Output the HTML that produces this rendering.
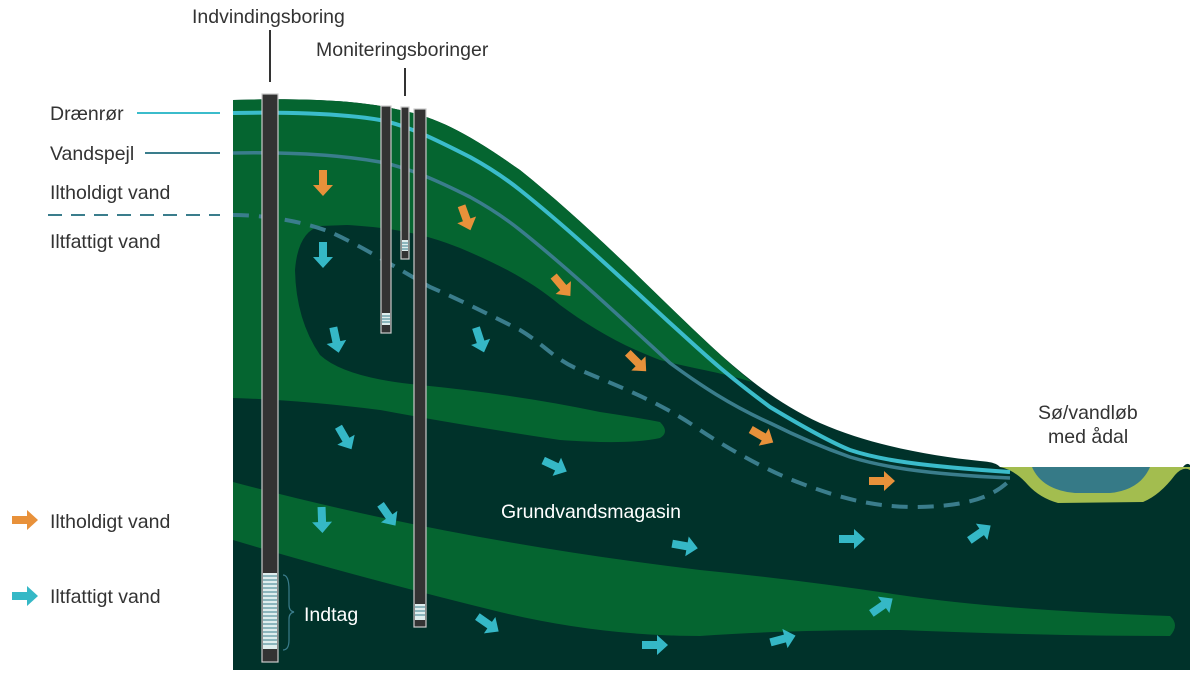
<!DOCTYPE html>
<html><head><meta charset="utf-8"><style>
html,body{margin:0;padding:0;background:#fff}
svg{display:block}
text{font-family:"Liberation Sans",sans-serif;font-size:19.5px;fill:#333}
</style></head><body>
<svg width="1200" height="682" viewBox="0 0 1200 682" xmlns="http://www.w3.org/2000/svg">
<defs>
<path id="ar" d="M-13,-4 L2,-4 L2,-10 L13,0 L2,10 L2,4 L-13,4 Z"/>
</defs>
<!-- base dark ground -->
<path d="M233,100 C300,98 360,100 400,110 C440,118 470,135 520,170 C570,210 620,258 670,307 C720,355 760,395 820,423 C870,445 930,456 980,461 C995,462 998,465 1000,467 L1183,467 Q1187,462 1190,465 L1190,670 L233,670 Z" fill="#00322a"/>
<!-- upper green layer -->
<path d="M233,100 C300,98 360,100 400,110 C440,118 470,135 520,170 C570,210 620,258 670,307 C700,336 725,360 752,382 C720,372 690,368 660,360 C620,345 590,327 560,305 C530,280 500,265 460,248 C430,236 400,228 347,225 L320,226 Q298,232 295,270 Q296,320 320,355 Q345,378 420,385 Q520,395 600,412 Q640,418 660,422 Q670,432 660,438 Q630,445 560,440 Q460,425 380,410 Q300,400 233,398 Z" fill="#056530"/>
<!-- lower green band -->
<path d="M233,482 Q450,540 700,570 Q800,580 900,595 Q1000,610 1170,616 Q1180,625 1170,636 Q1050,636 900,630 Q780,630 700,636 Q600,636 500,612 Q350,575 233,540 Z" fill="#056530"/>
<!-- lake -->
<path d="M1000,467 L1190,467 L1190,470 Q1183,466 1175,475 Q1160,495 1143,502 L1058,503 Q1040,498 1028,485 Q1015,470 1000,467 Z" fill="#a3bd4f"/>
<path d="M1032,467 L1150,467 Q1140,490 1110,493 L1075,493 Q1042,490 1032,467 Z" fill="#367a87"/>
<!-- lines -->
<path d="M233,113 C280,112 340,113 380,120 C410,126 440,142 470,157 C490,168 505,178 520,190 C570,230 620,277 670,323 C700,350 720,370 770,407 C800,425 830,442 850,450 C880,460 920,466 1010,472" fill="none" stroke="#3bbccb" stroke-width="4"/>
<path d="M233,153 C290,152 340,155 380,162 C410,168 440,182 470,197 C490,208 505,218 520,230 C570,270 620,317 670,363 C700,385 730,405 770,423 C800,438 830,450 850,457 C880,466 920,474 1010,478" fill="none" stroke="#3a7d8c" stroke-width="3.5"/>
<path d="M233,215 C260,215 300,220 330,232 C360,245 400,270 430,287 C460,300 490,315 520,330 C545,345 555,360 580,370 C620,387 660,402 700,430 C730,450 770,472 800,483 C840,498 870,506 910,507 C960,507 990,500 1010,480" fill="none" stroke="#3a7d8c" stroke-width="4" stroke-dasharray="16,10"/>
<!-- wells -->
<g stroke="#ccc" stroke-width="1.2">
<rect x="262" y="94" width="16" height="568" fill="#333"/>
<rect x="381" y="106" width="10" height="227" fill="#333"/>
<rect x="401" y="107" width="8" height="152" fill="#333"/>
<rect x="414" y="109" width="12" height="518" fill="#333"/>
</g>
<g fill="#dfeeee">
<rect x="263" y="573" width="14" height="76"/>
<rect x="382" y="313" width="8" height="12"/>
<rect x="402" y="240" width="6" height="11"/>
<rect x="415" y="604" width="10" height="16"/>
</g>
<g stroke="#3a7d8c" stroke-width="1">
<path d="M263,576H277M263,580H277M263,584H277M263,588H277M263,592H277M263,596H277M263,600H277M263,604H277M263,608H277M263,612H277M263,616H277M263,620H277M263,624H277M263,628H277M263,632H277M263,636H277M263,640H277M263,644H277"/>
<path d="M382,316H390M382,319H390M382,322H390M402,243H408M402,246H408M402,249H408M415,607H425M415,611H425M415,615H425"/>
</g>
<path d="M283,575 Q289,575 289,590 L289,605 Q289,611 294,612 Q289,613 289,619 L289,640 Q289,650 283,650" fill="none" stroke="#3a7d8c" stroke-width="1.2"/>
<!-- leader lines -->
<line x1="270" y1="30" x2="270" y2="82" stroke="#333" stroke-width="2"/>
<line x1="405" y1="68" x2="405" y2="96" stroke="#333" stroke-width="2"/>
<line x1="137" y1="113" x2="220" y2="113" stroke="#3bbccb" stroke-width="2"/>
<line x1="145" y1="153" x2="220" y2="153" stroke="#3a7d8c" stroke-width="2"/>
<line x1="48" y1="215" x2="220" y2="215" stroke="#3a7d8c" stroke-width="2" stroke-dasharray="14,9"/>
<!-- arrows -->
<g fill="#e8913a">
<use href="#ar" transform="translate(323,183) rotate(90)"/>
<use href="#ar" transform="translate(466,218) rotate(70)"/>
<use href="#ar" transform="translate(562,286) rotate(50)"/>
<use href="#ar" transform="translate(637,362) rotate(45)"/>
<use href="#ar" transform="translate(762,436) rotate(30)"/>
<use href="#ar" transform="translate(882,481)"/>
<use href="#ar" transform="translate(25,520)"/>
</g>
<g fill="#35b8c6">
<use href="#ar" transform="translate(323,255) rotate(90)"/>
<use href="#ar" transform="translate(336,340) rotate(78)"/>
<use href="#ar" transform="translate(480,340) rotate(72)"/>
<use href="#ar" transform="translate(345,438) rotate(60)"/>
<use href="#ar" transform="translate(322,520) rotate(88)"/>
<use href="#ar" transform="translate(388,515) rotate(55)"/>
<use href="#ar" transform="translate(555,466) rotate(25)"/>
<use href="#ar" transform="translate(488,624) rotate(35)"/>
<use href="#ar" transform="translate(685,546) rotate(10)"/>
<use href="#ar" transform="translate(852,539)"/>
<use href="#ar" transform="translate(980,533) rotate(-35)"/>
<use href="#ar" transform="translate(882,606) rotate(-35)"/>
<use href="#ar" transform="translate(655,645)"/>
<use href="#ar" transform="translate(783,639) rotate(-15)"/>
<use href="#ar" transform="translate(25,596)"/>
</g>
<!-- text -->
<text x="192" y="23">Indvindingsboring</text>
<text x="316" y="56">Moniteringsboringer</text>
<text x="50" y="120">Drænrør</text>
<text x="50" y="160">Vandspejl</text>
<text x="50" y="199">Iltholdigt vand</text>
<text x="50" y="248">Iltfattigt vand</text>
<text x="50" y="528">Iltholdigt vand</text>
<text x="50" y="603">Iltfattigt vand</text>
<text x="1038" y="419">Sø/vandløb</text>
<text x="1048" y="443">med ådal</text>
<text x="501" y="518" style="fill:#fff">Grundvandsmagasin</text>
<text x="304" y="621" style="fill:#fff">Indtag</text>
</svg>
</body></html>
